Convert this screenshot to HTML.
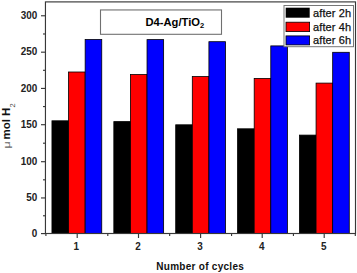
<!DOCTYPE html>
<html><head><meta charset="utf-8"><style>
html,body{margin:0;padding:0;background:#fff;width:357px;height:273px;overflow:hidden}
svg{display:block}
text{font-family:"Liberation Sans",sans-serif}
</style></head><body>
<svg width="357" height="273" viewBox="0 0 357 273">
<rect width="357" height="273" fill="#fff"/>
<rect x="51.95" y="120.80" width="16.60" height="112.60" fill="#000000" stroke="#000" stroke-width="0.8"/><rect x="68.55" y="72.00" width="16.60" height="161.40" fill="#ff0000" stroke="#000" stroke-width="0.8"/><rect x="85.15" y="39.50" width="16.60" height="193.90" fill="#0000ff" stroke="#000" stroke-width="0.8"/><rect x="113.83" y="121.60" width="16.60" height="111.80" fill="#000000" stroke="#000" stroke-width="0.8"/><rect x="130.43" y="74.55" width="16.60" height="158.85" fill="#ff0000" stroke="#000" stroke-width="0.8"/><rect x="147.03" y="39.60" width="16.60" height="193.80" fill="#0000ff" stroke="#000" stroke-width="0.8"/><rect x="175.71" y="124.80" width="16.60" height="108.60" fill="#000000" stroke="#000" stroke-width="0.8"/><rect x="192.31" y="76.55" width="16.60" height="156.85" fill="#ff0000" stroke="#000" stroke-width="0.8"/><rect x="208.91" y="41.70" width="16.60" height="191.70" fill="#0000ff" stroke="#000" stroke-width="0.8"/><rect x="237.59" y="128.80" width="16.60" height="104.60" fill="#000000" stroke="#000" stroke-width="0.8"/><rect x="254.19" y="78.40" width="16.60" height="155.00" fill="#ff0000" stroke="#000" stroke-width="0.8"/><rect x="270.79" y="45.90" width="16.60" height="187.50" fill="#0000ff" stroke="#000" stroke-width="0.8"/><rect x="299.47" y="135.10" width="16.60" height="98.30" fill="#000000" stroke="#000" stroke-width="0.8"/><rect x="316.07" y="83.10" width="16.60" height="150.30" fill="#ff0000" stroke="#000" stroke-width="0.8"/><rect x="332.67" y="52.30" width="16.60" height="181.10" fill="#0000ff" stroke="#000" stroke-width="0.8"/>
<g stroke="#383838" stroke-width="1.15" fill="none">
<rect x="45.45" y="1.9" width="310.05" height="231.6"/>
</g>
<g stroke="#383838" stroke-width="1.15"><line x1="41" y1="233.60" x2="45.5" y2="233.60"/><line x1="43" y1="215.77" x2="45.5" y2="215.77"/><line x1="41" y1="197.95" x2="45.5" y2="197.95"/><line x1="43" y1="179.82" x2="45.5" y2="179.82"/><line x1="41" y1="161.70" x2="45.5" y2="161.70"/><line x1="43" y1="143.20" x2="45.5" y2="143.20"/><line x1="41" y1="124.70" x2="45.5" y2="124.70"/><line x1="43" y1="106.57" x2="45.5" y2="106.57"/><line x1="41" y1="88.44" x2="45.5" y2="88.44"/><line x1="43" y1="70.31" x2="45.5" y2="70.31"/><line x1="41" y1="52.18" x2="45.5" y2="52.18"/><line x1="43" y1="33.98" x2="45.5" y2="33.98"/><line x1="41" y1="15.77" x2="45.5" y2="15.77"/><line x1="77.20" y1="233.5" x2="77.20" y2="238"/><line x1="138.50" y1="233.5" x2="138.50" y2="238"/><line x1="200.60" y1="233.5" x2="200.60" y2="238"/><line x1="262.20" y1="233.5" x2="262.20" y2="238"/><line x1="324.20" y1="233.5" x2="324.20" y2="238"/><line x1="45.91" y1="233.5" x2="45.91" y2="236"/><line x1="107.79" y1="233.5" x2="107.79" y2="236"/><line x1="169.67" y1="233.5" x2="169.67" y2="236"/><line x1="231.55" y1="233.5" x2="231.55" y2="236"/><line x1="293.43" y1="233.5" x2="293.43" y2="236"/><line x1="355.31" y1="233.5" x2="355.31" y2="236"/></g>
<g font-size="10.8" font-weight="bold" fill="#222"><text transform="translate(37.2,236.90) scale(0.92,1)" text-anchor="end">0</text><text transform="translate(37.2,201.25) scale(0.92,1)" text-anchor="end">50</text><text transform="translate(37.2,165.00) scale(0.92,1)" text-anchor="end">100</text><text transform="translate(37.2,128.00) scale(0.92,1)" text-anchor="end">150</text><text transform="translate(37.2,91.74) scale(0.92,1)" text-anchor="end">200</text><text transform="translate(37.2,55.48) scale(0.92,1)" text-anchor="end">250</text><text transform="translate(37.2,19.07) scale(0.92,1)" text-anchor="end">300</text><text transform="translate(76.20,249.9) scale(0.92,1)" text-anchor="middle">1</text><text transform="translate(138.00,249.9) scale(0.92,1)" text-anchor="middle">2</text><text transform="translate(200.10,249.9) scale(0.92,1)" text-anchor="middle">3</text><text transform="translate(261.70,249.9) scale(0.92,1)" text-anchor="middle">4</text><text transform="translate(323.70,249.9) scale(0.92,1)" text-anchor="middle">5</text></g>
<rect x="100.5" y="9.95" width="121" height="24.35" fill="#fff" stroke="#707070" stroke-width="1.1"/>
<text x="145.5" y="26.3" font-size="11.2" font-weight="bold" fill="#000">D4-Ag/TiO<tspan font-size="7.5" dy="1.6">2</tspan></text>
<rect x="284" y="5.5" width="69.5" height="41.2" fill="#fff" stroke="#777" stroke-width="1"/>
<rect x="285.7" y="7.7" width="24" height="10" fill="#000"/>
<rect x="286" y="22.2" width="23.6" height="9.4" fill="#ff0000" stroke="#000" stroke-width="0.8"/>
<rect x="286" y="35.9" width="23.6" height="9" fill="#0000ff" stroke="#000" stroke-width="0.8"/>
<g font-size="11" letter-spacing="0.1" fill="#111" stroke="#111" stroke-width="0.25">
<text x="313.1" y="16.9">after 2h</text>
<text x="313.1" y="30.6">after 4h</text>
<text x="313.1" y="44">after 6h</text>
</g>
<text x="200.2" y="269.8" text-anchor="middle" font-size="10" letter-spacing="0.28" font-weight="bold" fill="#111">Number of cycles</text>
<text transform="translate(9.6,139.6) rotate(-90)" font-size="11.5" font-weight="bold" fill="#111">mol H</text>
<text transform="translate(15,107.6) rotate(-90)" font-size="7.5" font-weight="normal" fill="#444">2</text>
<text transform="translate(10.0,148.4) rotate(-90) scale(1.3,1)" font-size="9.6" fill="#666">&#956;</text>
</svg>
</body></html>
